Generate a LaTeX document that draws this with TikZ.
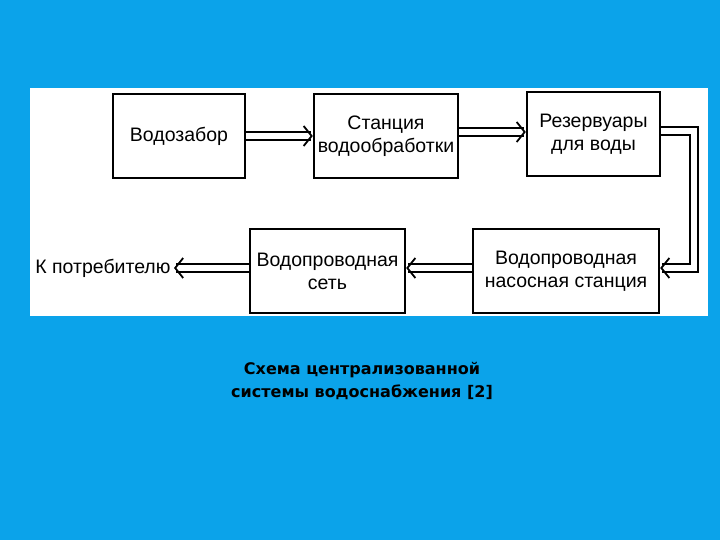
\documentclass[tikz,border=0pt]{standalone}
\usepackage{fontspec}
\setmainfont{Liberation Sans}
\newfontfamily\capfont{DejaVu Sans}
\usetikzlibrary{arrows.meta}
\definecolor{bg}{HTML}{0BA3EA}
\begin{document}
\begin{tikzpicture}[x=1pt,y=-1pt,
  blk/.style={draw=black,line width=2.4pt,fill=white,inner sep=0pt,align=center,font=\fontsize{19.5}{23}\selectfont},
  dar/.style={draw=black,line width=1.7pt,double=white,double distance=6pt,-{Straight Barb[length=8pt,width=20pt,line width=1.8pt]}}]
\fill[bg] (0,0) rectangle (720,540);
\fill[white] (30,88) rectangle (708,316);
\node[blk,minimum width=132pt,minimum height=84pt] (a) at (179,136) {Водозабор};
\node[blk,minimum width=144pt,minimum height=84pt] (b) at (386,136) {Станция\\водообработки};
\node[blk,minimum width=133pt,minimum height=84pt] (c) at (593.5,134) {Резервуары\\для воды};
\node[blk,minimum width=186pt,minimum height=84pt] (d) at (566,271) {Водопроводная\\насосная станция};
\node[blk,minimum width=155pt,minimum height=84pt] (e) at (327.5,271) {Водопроводная\\сеть};
\node[font=\fontsize{19.5}{23}\selectfont,anchor=east] (k) at (174,268) {К потребителю};
\coordinate (c1) at (694,131);
\coordinate (c2) at (694,268);
\draw[dar] (a.east) -- (b.west);
\draw[dar] (b.east|-c.west) ++(0,-2) coordinate (bx) (bx) -- (c.west|-bx);
\draw[dar] (c.east|-c1) -- (c1) -- (c2) -- (d.east|-c2);
\draw[dar] (d.west|-c2) -- (e.east|-c2);
\draw[dar] (e.west|-c2) -- (k.east|-c2);
\node[font=\capfont\bfseries\fontsize{16}{23}\selectfont,align=center] (cap) at (362,381) {Схема централизованной\\системы водоснабжения [2]};
\end{tikzpicture}
\end{document}
